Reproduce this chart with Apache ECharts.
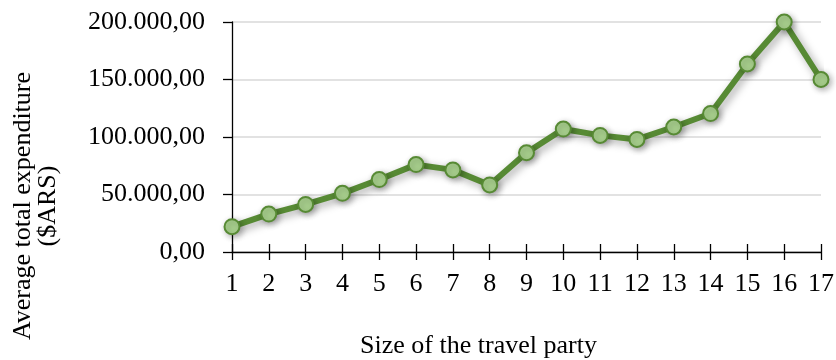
<!DOCTYPE html>
<html>
<head>
<meta charset="utf-8">
<script src="https://cdn.jsdelivr.net/npm/echarts@6/dist/echarts.min.js"></script>
<style>
  html, body { margin: 0; padding: 0; background: #fff; }
  #chart { width: 836px; height: 360px; }
</style>
</head>
<body>
<div id="chart"></div>
<script>
// Party size categories and the average total expenditure for each
const partySizes = ['1','2','3','4','5','6','7','8','9','10','11','12','13','14','15','16','17'];
const avgExpenditure = [22000, 33000, 41400, 51000, 63000, 76000, 71400, 58300, 86300,
                        106900, 101400, 97900, 108700, 120400, 163500, 200000, 150000];
const yTicks = { min: 0, max: 200000, step: 50000 };

const xTitle = 'Size of the travel party';
const yTitle = 'Average total expenditure\n($ARS)';

const FONT = '"Liberation Serif", "Times New Roman", serif';
const LINE = '#578a34';
const FILL = '#a9d18e';

// 200000 -> "200.000,00"
function fmt(v) {
  const s = Math.round(v).toString().replace(/\B(?=(\d{3})+(?!\d))/g, '.');
  return s + ',00';
}

const chart = echarts.init(document.getElementById('chart'), null, { renderer: 'canvas' });

chart.setOption({
  animation: false,
  backgroundColor: '#ffffff',
  grid: { left: 232, right: 15, top: 22, bottom: 108, containLabel: false, outerBoundsMode: 'none' },
  xAxis: [
    {
      type: 'category',
      data: partySizes,
      boundaryGap: false,
      axisLine: { lineStyle: { color: '#000', width: 1.3 } },
      axisTick: { length: 8, lineStyle: { color: '#000', width: 1.3 } },
      axisLabel: { color: '#000', fontFamily: FONT, fontSize: 26, margin: 19 },
      splitLine: { show: false },
      name: xTitle,
      nameLocation: 'middle',
      nameGap: 81,
      nameTextStyle: { color: '#000', fontFamily: FONT, fontSize: 26, padding: [0, 96, 0, 0] }
    },
    {
      // upper half of the crossing tick marks
      type: 'category',
      data: partySizes,
      boundaryGap: false,
      position: 'bottom',
      axisLine: { show: false },
      axisTick: { inside: true, length: 8, lineStyle: { color: '#000', width: 1.3 } },
      axisLabel: { show: false },
      splitLine: { show: false }
    }
  ],
  yAxis: {
    type: 'value',
    min: yTicks.min,
    max: yTicks.max,
    interval: yTicks.step,
    axisLine: { show: true, lineStyle: { color: '#000', width: 1.3 } },
    axisTick: { show: true, length: 9, lineStyle: { color: '#000', width: 1.3 } },
    axisLabel: { color: '#000', fontFamily: FONT, fontSize: 26, margin: 27, formatter: fmt },
    splitLine: { show: true, lineStyle: { color: '#d9d9d9', width: 1.5 } }
  },
  graphic: [
    {
      type: 'text',
      x: 36,
      y: 206,
      rotation: Math.PI / 2,
      style: {
        text: yTitle,
        fill: '#000',
        font: '26px ' + FONT,
        textAlign: 'center',
        textVerticalAlign: 'middle',
        lineHeight: 25
      }
    }
  ],
  series: [
    {
      type: 'line',
      data: avgExpenditure,
      xAxisIndex: 0,
      symbol: 'circle',
      symbolSize: 15,
      lineStyle: {
        color: LINE, width: 6,
        shadowColor: 'rgba(0,0,0,0.35)', shadowBlur: 8, shadowOffsetX: 3, shadowOffsetY: 3
      },
      itemStyle: {
        color: FILL, borderColor: LINE, borderWidth: 2,
        shadowColor: 'rgba(0,0,0,0.3)', shadowBlur: 6, shadowOffsetX: 2, shadowOffsetY: 2
      },
      emphasis: { disabled: true },
      z: 3
    }
  ]
});
</script>
</body>
</html>
